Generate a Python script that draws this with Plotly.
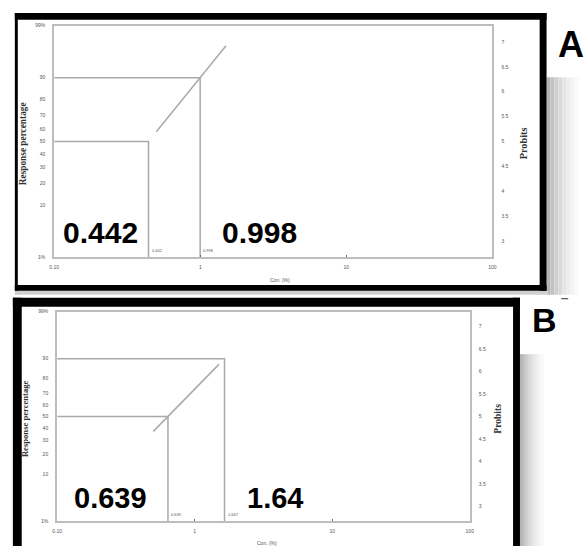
import math
from statistics import NormalDist

import plotly.graph_objects as go

W, H = 586, 549

# Lethal concentrations (%) read at 50 % and 90 % response for each panel
panels = ["A", "B"]
lc50 = [0.442, 0.639]
lc90 = [0.998, 1.647]
lc50_big = ["0.442", "0.639"]
lc90_big = ["0.998", "1.64"]
lc50_small = ["0.442", "0.639"]
lc90_small = ["0.998", "1.647"]
fit_conc = [0.5, 1.5]  # concentration span covered by the fitted probit line

x_ticks = [0.1, 1, 10, 100]
x_tick_text = ["0.10", "1", "10", "100"]
pct_ticks = [1, 10, 20, 30, 40, 50, 60, 70, 80, 90, 99]
pct_text = ["1%", "10", "20", "30", "40", "50", "60", "70", "80", "90", "99%"]
probit_ticks = [3, 3.5, 4, 4.5, 5, 5.5, 6, 6.5, 7]
probit_text = ["3", "3.5", "4", "4.5", "5", "5.5", "6", "6.5", "7"]

# plot boxes in pixels: left, right, top, bottom
boxes = [(50, 495, 23, 257), (53, 472, 312, 524)]

ND = NormalDist()


def probit(pct):
    return 5 + ND.inv_cdf(pct / 100.0)


def px(x):
    return x / W


def py(y):
    return 1 - y / H


Y_LO, Y_HI = probit(1), probit(99)
AXIS_COL = "#bdbdbd"
LINE_COL = "#a9a9a9"
TICK_FONT = dict(family="Liberation Sans", size=5, color="#555555")

fig = go.Figure()
layout = dict(
    width=W, height=H, margin=dict(l=0, r=0, t=0, b=0),
    paper_bgcolor="white", plot_bgcolor="white", showlegend=False,
)
annotations = []
shapes = []


def label(text, x, y, size, family="Liberation Sans", color="#000000", angle=0):
    annotations.append(dict(
        text=text, x=px(x), y=py(y), xref="paper", yref="paper",
        showarrow=False, xanchor="center", yanchor="middle", textangle=angle,
        font=dict(family=family, size=size, color=color)))


for i, name in enumerate(panels):
    xa = "x" if i == 0 else "x2"
    ya = "y" if i == 0 else "y3"
    yb = "y2" if i == 0 else "y4"
    l, r, t, b = boxes[i]

    # reference lines for the 50 % and 90 % response levels
    for conc, pct in ((lc50[i], 50), (lc90[i], 90)):
        yv = probit(pct)
        fig.add_trace(go.Scatter(
            x=[x_ticks[0], conc, conc], y=[yv, yv, Y_LO], mode="lines",
            line=dict(color=LINE_COL, width=1.5), xaxis=xa, yaxis=ya,
            hoverinfo="skip"))

    # fitted probit regression line
    slope = ND.inv_cdf(0.9) / (math.log10(lc90[i]) - math.log10(lc50[i]))
    fit_y = [5 + slope * (math.log10(c) - math.log10(lc50[i])) for c in fit_conc]
    fig.add_trace(go.Scatter(
        x=fit_conc, y=fit_y, mode="lines",
        line=dict(color=LINE_COL, width=1.5), xaxis=xa, yaxis=ya,
        hoverinfo="skip"))
    # carrier for the probit axis on the right
    fig.add_trace(go.Scatter(x=[None], y=[None], xaxis=xa, yaxis=yb,
                             mode="markers", hoverinfo="skip"))

    xkey = "xaxis" if i == 0 else "xaxis2"
    ykey = "yaxis" if i == 0 else "yaxis3"
    y2key = "yaxis2" if i == 0 else "yaxis4"
    layout[xkey] = dict(
        type="log", range=[-1, 2], domain=[px(l), px(r)], anchor=ya,
        tickvals=x_ticks, ticktext=x_tick_text, tickfont=TICK_FONT,
        ticks="inside", ticklen=2, tickcolor="#666666", tickwidth=1,
        showline=True, linecolor=AXIS_COL, linewidth=2, mirror=True,
        showgrid=False, zeroline=False, ticklabelstandoff=4,
    )
    layout[ykey] = dict(
        range=[Y_LO, Y_HI], domain=[py(b), py(t)], anchor=xa,
        tickvals=[probit(p) for p in pct_ticks], ticktext=pct_text,
        tickfont=TICK_FONT, ticks="",
        showline=True, linecolor=AXIS_COL, linewidth=2,
        showgrid=False, zeroline=False, ticklabelstandoff=6,
    )
    layout[y2key] = dict(
        range=[Y_LO, Y_HI], overlaying=ya, side="right", anchor=xa,
        tickvals=probit_ticks, ticktext=probit_text,
        tickfont=TICK_FONT, ticks="",
        showline=True, linecolor=AXIS_COL, linewidth=2,
        showgrid=False, zeroline=False, ticklabelstandoff=6,
    )

    # big value labels
    big_y = 232 if i == 0 else 500
    big_x = (97, 258) if i == 0 else (107, 274)
    big_size = 30 if i == 0 else 29
    for txt, bx in zip((lc50_big[i], lc90_big[i]), big_x):
        label("<b>%s</b>" % txt, bx, big_y, big_size)

    # small value labels at the foot of the vertical lines
    for txt, conc in ((lc50_small[i], lc50[i]), (lc90_small[i], lc90[i])):
        annotations.append(dict(
            text=txt, x=math.log10(conc), y=Y_LO, xref=xa, yref=ya,
            showarrow=False, xanchor="left", yanchor="bottom", xshift=1,
            yshift=2, font=dict(family="Liberation Sans", size=4, color="#555555")))

    # axis titles
    ttl_size = 9.3 if i == 0 else 8.6
    label("<b>Response percentage</b>", 19 if i == 0 else 21, (t + b) / 2 + 2,
          ttl_size, family="Liberation Serif", color="#333333", angle=-90)
    label("<b>Probits</b>", 527 if i == 0 else 500, (t + b) / 2 + 2,
          ttl_size + 1, family="Liberation Serif", color="#333333", angle=-90)
    label("Con. (%)", 279 if i == 0 else 266, 280 if i == 0 else 546, 5,
          color="#555555")

# panel letters
label("<b>A</b>", 575, 42, 36)
label("<b>B</b>", 548, 320, 34)


def rect(x0, y0, x1, y1, color, layer="above"):
    shapes.append(dict(type="rect", xref="paper", yref="paper",
                       x0=px(x0), x1=px(x1), y0=py(y1), y1=py(y0),
                       fillcolor=color, line=dict(width=0), layer=layer))


# soft drop shadows behind the frames
shadow_steps = ["#b4b4b4", "#c2c2c2", "#cfcfcf", "#dadada", "#e4e4e4",
                "#ececec", "#f3f3f3", "#f9f9f9"]
for k, c in enumerate(shadow_steps):
    rect(550 + 4 * k, 75, 554 + 4 * k, 295, c, layer="below")
    rect(523 + 3 * k, 355, 526 + 3 * k, 549, c, layer="below")
rect(10, 291, 552, 295, "#cfcfcf", layer="below")

# black frames
rect(10, 10, 550, 17, "#000000")
rect(10, 10, 13, 291, "#000000")
rect(543, 10, 550, 291, "#000000")
rect(10, 285, 550, 291, "#000000")

rect(8, 298, 523, 307, "#000000")
rect(8, 298, 17, 549, "#000000")
rect(516, 298, 523, 549, "#000000")

shapes.append(dict(type="line", xref="paper", yref="paper", x0=px(565),
                   x1=px(572), y0=py(299), y1=py(299),
                   line=dict(color="#333333", width=1)))

layout["annotations"] = annotations
layout["shapes"] = shapes
fig.update_layout(**layout)
fig.write_html("out.html")
